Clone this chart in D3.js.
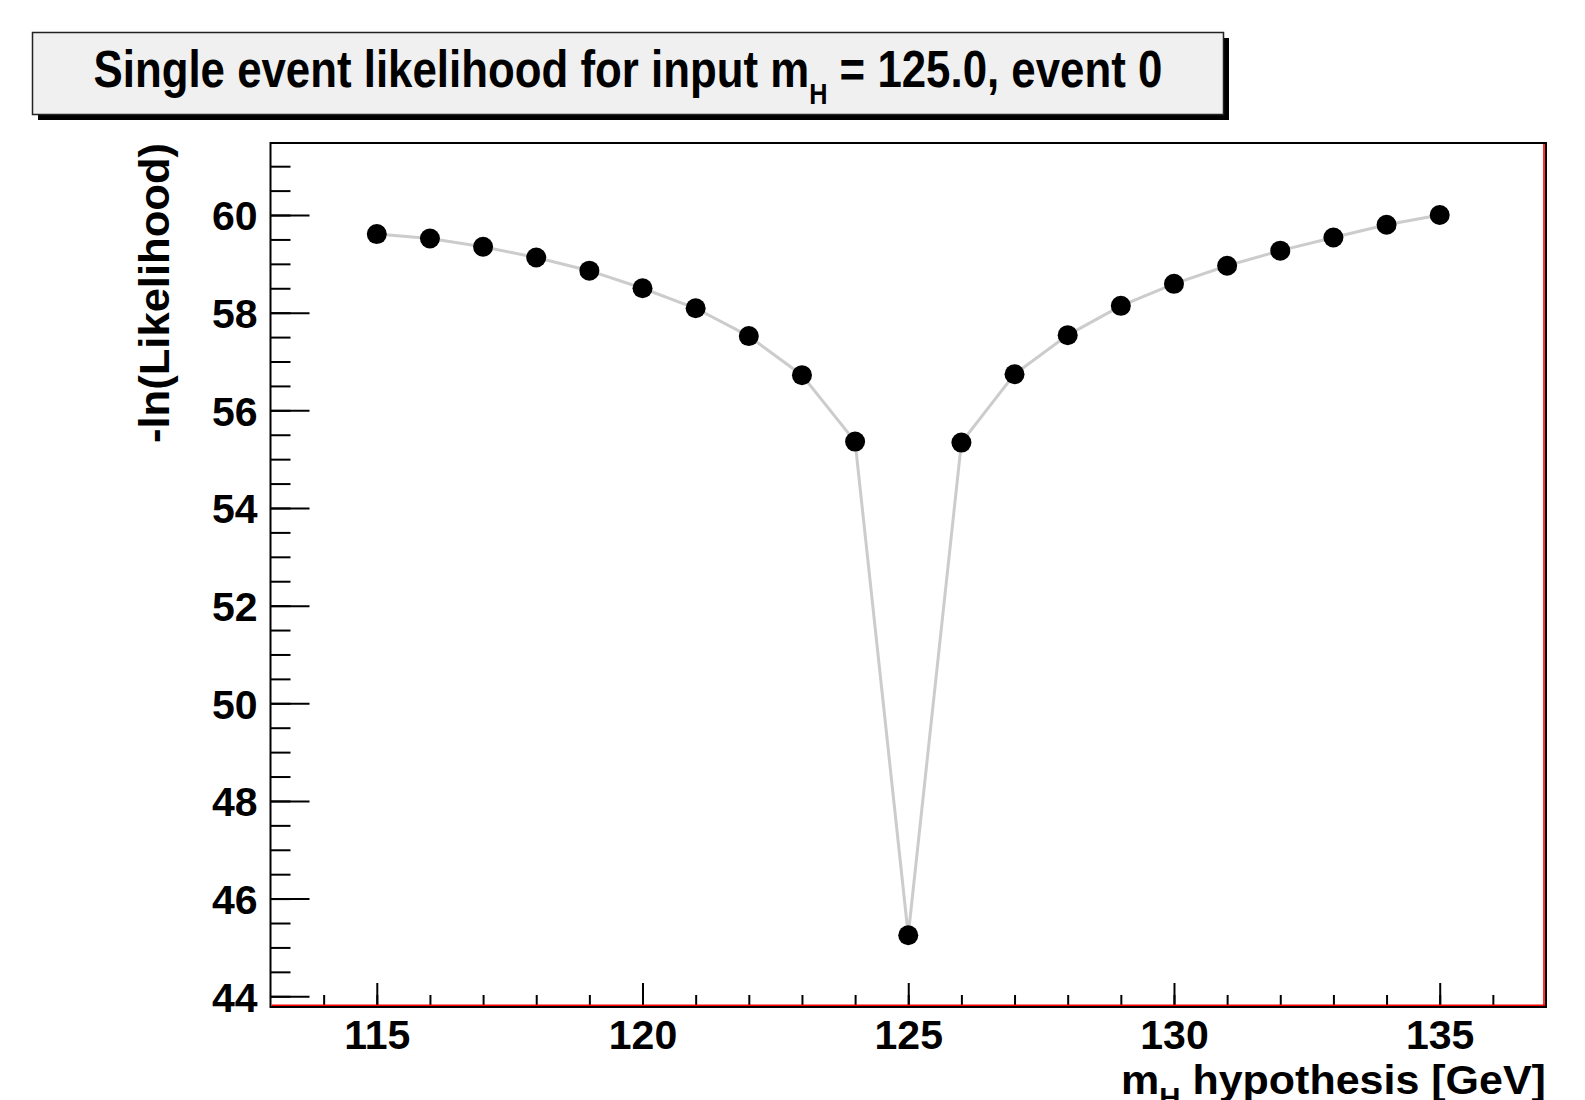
<!doctype html>
<html>
<head>
<meta charset="utf-8">
<title>Single event likelihood</title>
<script src="https://d3js.org/d3.v7.min.js"></script>
<style>
  body { margin: 0; background: #fff; }
  svg text { font-family: "Liberation Sans", Arial, Helvetica, sans-serif; font-weight: bold; fill: #000; }
</style>
</head>
<body>
<svg id="chart" width="1585" height="1100"></svg>
<script>
// m_H hypotheses and -ln(L)
var massPoints = [115, 116, 117, 118, 119, 120, 121, 122, 123, 124, 125, 126, 127, 128, 129, 130, 131, 132, 133, 134, 135];
var nllValues = [59.61, 59.52, 59.35, 59.13, 58.86, 58.50, 58.09, 57.52, 56.72, 55.36, 45.25,
                 55.34, 56.74, 57.54, 58.14, 58.59, 58.96, 59.27, 59.54, 59.80, 60.00];
var xRange = [113, 137];
var yRange = [43.78, 61.475];
var xMajorTicks = [115, 120, 125, 130, 135];
var xMinorTicks = d3.range(114, 137, 1);
var yMajorTicks = [44, 46, 48, 50, 52, 54, 56, 58, 60];
var yMinorTicks = d3.range(44, 61.5, 0.5);

var svg = d3.select("#chart");

// frame box (don't call it "top", that's window.top)
var frameL = 270.5, frameR = 1546, frameT = 143, frameB = 1007;

var x = d3.scaleLinear().domain(xRange).range([frameL, frameR]);
var y = d3.scaleLinear().domain(yRange).range([frameB, frameT]);

// title box with shadow
svg.append("rect").attr("x", 38).attr("y", 38).attr("width", 1191).attr("height", 82).attr("fill", "#000");
svg.append("rect").attr("x", 32.5).attr("y", 32.5).attr("width", 1191).attr("height", 82)
  .attr("fill", "#f0f0f0").attr("stroke", "#222").attr("stroke-width", 1.5);

var title = svg.append("text").attr("x", 0).attr("y", 0).style("font-size", "52px");
title.append("tspan").text("Single event likelihood for input m");
title.append("tspan").attr("dy", 17).style("font-size", "30px").text("H");
title.append("tspan").attr("dy", -17).text(" = 125.0, event 0");
var tw = title.node().getComputedTextLength();
var targetW = 1069;
title.attr("transform", "translate(" + (628 - targetW / 2) + ",87) scale(" + (targetW / tw) + ",1)");

// frame
svg.append("rect").attr("x", frameL).attr("y", frameT).attr("width", frameR - frameL).attr("height", frameB - frameT)
  .attr("fill", "none").attr("stroke", "#000").attr("stroke-width", 2);

// y axis (ticks point inward)
var yMinor = svg.append("g").attr("transform", "translate(" + frameL + ",0)")
  .call(d3.axisLeft(y).tickValues(yMinorTicks).tickSize(-20).tickFormat(""));
var yMajor = svg.append("g").attr("transform", "translate(" + frameL + ",0)")
  .call(d3.axisLeft(y).tickValues(yMajorTicks).tickSize(-39).tickPadding(13).tickFormat(d3.format("d")));

// x axis
var xMinor = svg.append("g").attr("transform", "translate(0," + frameB + ")")
  .call(d3.axisBottom(x).tickValues(xMinorTicks).tickSize(-12).tickFormat(""));
var xMajor = svg.append("g").attr("transform", "translate(0," + frameB + ")")
  .call(d3.axisBottom(x).tickValues(xMajorTicks).tickSize(-24).tickPadding(13).tickFormat(d3.format("d")));

[yMinor, yMajor, xMinor, xMajor].forEach(function(g){
  g.select(".domain").remove();
  g.selectAll(".tick line").attr("stroke", "#000").attr("stroke-width", 2);
  g.selectAll(".tick text").style("font-size", "41px").attr("fill", "#000")
    .style("font-family", "'Liberation Sans', Arial, sans-serif").style("font-weight", "bold");
});
yMajor.selectAll(".tick text").attr("dy", "0.36em");

// red lines inside bottom and right edge
svg.append("line").attr("x1", frameL + 1).attr("x2", frameR - 1).attr("y1", frameB - 1.8).attr("y2", frameB - 1.8)
  .attr("stroke", "#ff0000").attr("stroke-width", 1.6);
svg.append("line").attr("x1", frameR - 2).attr("x2", frameR - 2).attr("y1", frameT + 1).attr("y2", frameB - 1)
  .attr("stroke", "#ff0000").attr("stroke-width", 1.6);

// graph line and markers
var pts = massPoints.map(function(m, i){ return [m, nllValues[i]]; });
var line = d3.line().x(function(d){ return x(d[0]); }).y(function(d){ return y(d[1]); });
svg.append("path").attr("d", line(pts)).attr("fill", "none").attr("stroke", "#cccccc").attr("stroke-width", 3);
svg.selectAll("circle.pt").data(pts).enter().append("circle").attr("class", "pt")
  .attr("cx", function(d){ return x(d[0]); })
  .attr("cy", function(d){ return y(d[1]); })
  .attr("r", 10).attr("fill", "#000");

// axis titles
svg.append("text").attr("text-anchor", "end")
  .attr("transform", "translate(169,143) rotate(-90)")
  .style("font-size", "42px").attr("textLength", 300).attr("lengthAdjust", "spacingAndGlyphs")
  .text("-ln(Likelihood)");

var xt = svg.append("text").attr("x", 0).attr("y", 0).style("font-size", "41px");
xt.append("tspan").text("m");
xt.append("tspan").attr("dy", 13).style("font-size", "28px").text("H");
xt.append("tspan").attr("dy", -13).text(" hypothesis [GeV]");
var xw = xt.node().getComputedTextLength();
var xTarget = 425;
xt.attr("transform", "translate(" + (frameR - xTarget) + ",1094) scale(" + (xTarget / xw) + ",1)");
</script>
</body>
</html>
